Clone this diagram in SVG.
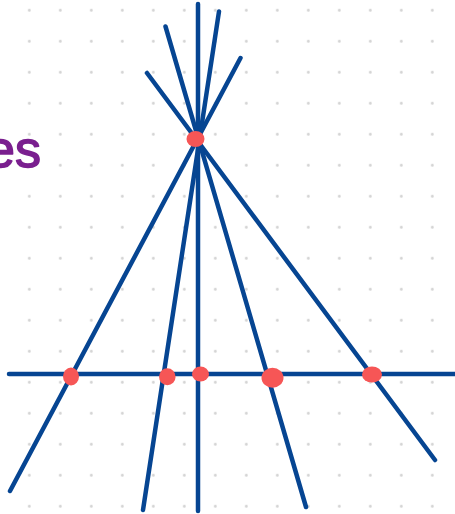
<svg xmlns="http://www.w3.org/2000/svg" width="455" height="514" viewBox="0 0 455 514">
<style>
.ln{stroke:#064592;stroke-width:4.5;stroke-linecap:round;fill:none}
.pt{fill:#f65656}
.lbl{font-family:"Liberation Sans",sans-serif;font-size:52px;fill:#7a1f8f;stroke:#7a1f8f;stroke-width:1.5;stroke-linejoin:round}
</style>
<defs>
<pattern id="grid" x="13.8" y="-5.2" width="31" height="31" patternUnits="userSpaceOnUse">
<circle cx="15.5" cy="15.5" r="1.4" fill="#d2d2d2"/>
</pattern>
</defs>
<rect width="455" height="514" fill="#ffffff"/>
<rect width="455" height="514" fill="url(#grid)"/>
<g id="label"><text class="lbl" x="41" y="167" text-anchor="end">es</text></g>
<g id="connectors">
<line class="ln" x1="9" y1="374" x2="457" y2="374"/>
<line class="ln" x1="198" y1="4" x2="198" y2="511"/>
<line class="ln" x1="147" y1="73" x2="435" y2="460"/>
<line class="ln" x1="165.5" y1="26.5" x2="306" y2="507"/>
<line class="ln" x1="219" y1="11.5" x2="143" y2="510"/>
<line class="ln" x1="240.5" y1="58" x2="10" y2="491"/>
</g>
<g id="apex"><ellipse class="pt" cx="195.5" cy="139" rx="9" ry="8"/></g>
<g id="p1"><ellipse class="pt" cx="71" cy="376.5" rx="8" ry="9"/></g>
<g id="p2"><ellipse class="pt" cx="167.3" cy="376.7" rx="8.3" ry="8.5"/></g>
<g id="p3"><ellipse class="pt" cx="200.5" cy="374" rx="8.5" ry="7.5"/></g>
<g id="p4"><ellipse class="pt" cx="272.5" cy="377.7" rx="11" ry="10"/></g>
<g id="p5"><ellipse class="pt" cx="372" cy="374.5" rx="10" ry="8"/></g>
</svg>
